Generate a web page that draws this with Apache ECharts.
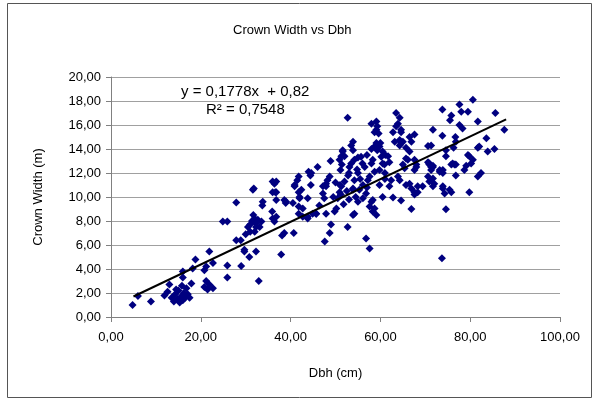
<!DOCTYPE html>
<html>
<head>
<meta charset="utf-8">
<script src="https://cdn.jsdelivr.net/npm/echarts@6/dist/echarts.min.js"></script>
<style>
    html, body { margin: 0; padding: 0; background: #fff; }
    #chart { width: 597px; height: 400px; }
</style>
</head>
<body>
<div id="chart"></div>
<script>
// 坐标轴刻度
var xTicks = [0, 20, 40, 60, 80, 100];
var yTicks = [0, 2, 4, 6, 8, 10, 12, 14, 16, 18, 20];

// 散点数据 [Dbh (cm), Crown Width (m)]
var treePoints = [
    [4.8, 1.0], [6.0, 1.75], [8.9, 1.3], [11.9, 1.8], [12.6, 2.1], [13.0, 2.7], [13.5, 1.6], [14.0, 1.3],
    [14.3, 1.9], [14.8, 1.5], [15.0, 2.2], [15.3, 1.2], [15.6, 1.7], [16.0, 1.4], [16.2, 2.0], [16.5, 1.6],
    [16.8, 2.4], [17.1, 1.9], [15.8, 2.6], [16.0, 3.3], [16.0, 3.8], [17.9, 2.8], [18.2, 4.05], [18.8, 4.8],
    [17.5, 1.6], [14.5, 2.3], [20.8, 3.9], [21.2, 4.2], [21.9, 5.45], [22.7, 4.5], [20.8, 2.5], [21.5, 2.3],
    [21.2, 3.0], [21.9, 2.7], [22.7, 2.4], [25.9, 4.3], [25.9, 3.3], [29.0, 4.25], [27.9, 9.55], [24.9, 7.95],
    [25.9, 7.95], [27.9, 6.4], [28.9, 6.4], [29.7, 5.6], [30.8, 5.0], [31.6, 10.6], [30.5, 7.5], [31.0, 7.7],
    [31.4, 8.0], [29.7, 5.45], [30.0, 6.9], [31.0, 7.1], [32.3, 7.5], [31.7, 8.5], [32.3, 7.8], [33.8, 9.6],
    [33.7, 9.3], [35.9, 8.8], [36.4, 7.95], [36.0, 10.4], [36.6, 10.4], [36.4, 11.1], [37.9, 5.2], [38.1, 6.8],
    [38.6, 7.0], [32.9, 3.0], [32.3, 5.45], [38.6, 9.75], [38.9, 9.5], [40.9, 11.0], [40.5, 9.5], [40.7, 7.0],
    [41.8, 10.4], [42.0, 10.0], [41.8, 9.2], [41.8, 8.6], [42.7, 8.35], [43.8, 8.35], [44.9, 8.6], [44.5, 11.0],
    [32.0, 8.2], [32.7, 8.1], [33.5, 7.95], [33.1, 7.5], [32.0, 7.1], [36.0, 8.2], [36.8, 8.35], [36.0, 11.3],
    [36.8, 11.3], [36.8, 10.4], [36.8, 9.75], [39.0, 9.6], [42.0, 9.9], [43.8, 9.9], [42.7, 9.05], [43.8, 8.2],
    [45.7, 8.6], [47.9, 8.6], [49.0, 7.7], [48.7, 7.0], [47.6, 6.3], [52.7, 7.5], [56.8, 6.55], [57.6, 5.7],
    [54.2, 8.6], [53.9, 8.5], [57.6, 9.2], [58.3, 8.8], [58.7, 9.05], [59.1, 8.5], [58.0, 9.6],
    [41.8, 11.7], [41.5, 11.4], [44.0, 12.1], [44.4, 11.8], [44.6, 12.0], [48.7, 11.7], [48.2, 11.4], [47.2, 10.9],
    [47.9, 11.1], [40.9, 10.9], [42.4, 10.6], [48.9, 13.0], [51.6, 13.8], [52.0, 13.4], [51.4, 12.7], [51.1, 12.25],
    [53.9, 14.6], [53.5, 14.3], [52.7, 16.6], [59.3, 15.9], [59.1, 15.6], [59.6, 15.3], [58.7, 14.2], [59.3, 13.9],
    [54.2, 13.1], [55.0, 13.3], [55.7, 13.35], [53.5, 12.8], [53.1, 12.5], [54.8, 12.3], [55.0, 12.0], [58.0, 12.8],
    [58.3, 13.1], [60.2, 13.35], [51.3, 10.9], [52.0, 11.3], [54.2, 11.4], [53.9, 10.7], [57.2, 11.4], [57.6, 11.7],
    [58.7, 12.1], [59.8, 12.25], [60.5, 12.8], [45.7, 8.6], [46.4, 9.3], [47.5, 9.9], [47.2, 10.3], [47.9, 10.9],
    [50.9, 10.4], [51.2, 10.2], [50.5, 9.9], [49.8, 8.8], [50.2, 9.05], [53.9, 10.6], [55.3, 10.6], [56.1, 11.0],
    [56.8, 10.3], [56.1, 9.9], [55.0, 9.6], [58.3, 9.75], [50.0, 11.2], [51.0, 11.0], [52.5, 10.5], [53.0, 9.8],
    [54.5, 10.0], [55.5, 11.5], [56.5, 12.5], [57.0, 10.8], [49.5, 10.0], [51.8, 9.4], [52.8, 11.8], [53.0, 12.0],
    [56.0, 12.8], [57.0, 13.5], [58.0, 14.0], [60.0, 14.5], [61.0, 11.5], [60.5, 10.0], [59.8, 11.0], [61.0, 12.0],
    [58.0, 16.1], [59.1, 16.3], [58.7, 15.4], [53.9, 13.9], [51.6, 13.9], [51.3, 13.4], [50.9, 13.1], [60.5, 13.8],
    [61.1, 13.5], [59.1, 14.5], [59.8, 14.2], [46.0, 12.5], [31.8, 10.7],
    [63.5, 17.0], [64.3, 16.6], [63.9, 16.1], [62.8, 15.4], [64.6, 15.4], [64.3, 14.75], [63.2, 14.6], [64.6, 14.5],
    [67.6, 15.2], [66.9, 14.6], [66.5, 13.8], [61.7, 13.4], [62.0, 12.9], [60.9, 12.7], [65.7, 13.2], [66.1, 13.1],
    [65.0, 12.7], [68.0, 12.7], [67.6, 12.25], [65.4, 12.4], [70.6, 12.9], [70.9, 12.7], [71.7, 12.5], [71.3, 12.25],
    [73.2, 12.25], [73.9, 12.0], [76.1, 12.8], [76.8, 12.7], [63.9, 11.7], [64.3, 11.4], [62.0, 10.9], [62.4, 11.4],
    [65.7, 11.0], [66.9, 10.7], [67.6, 10.4], [68.3, 10.9], [69.4, 10.9], [70.6, 11.7], [71.7, 11.55], [70.9, 11.3],
    [72.0, 11.1], [73.9, 10.7], [75.4, 10.6], [79.8, 10.4], [62.8, 9.95], [64.6, 9.7], [66.9, 9.0], [67.6, 10.2],
    [74.6, 8.98], [73.7, 4.9], [66.5, 11.1], [68.3, 10.4], [71.7, 10.9], [73.9, 10.9], [74.3, 10.3], [75.8, 10.4],
    [80.6, 18.1], [77.6, 17.7], [78.0, 17.1], [75.8, 16.8], [75.5, 16.4], [79.5, 17.1], [73.8, 17.3], [85.6, 17.0],
    [87.6, 15.6], [81.7, 16.3], [77.6, 16.0], [78.3, 15.7], [71.7, 15.6], [73.8, 15.1], [76.7, 15.0], [76.8, 14.6],
    [76.3, 14.1], [81.7, 14.1], [83.6, 14.9], [85.4, 14.0], [71.3, 14.3], [70.6, 14.25], [74.6, 13.9], [74.6, 13.4],
    [79.8, 13.4], [80.6, 13.1], [80.2, 12.8], [79.1, 12.6], [78.7, 12.25], [82.4, 12.0], [76.8, 11.8], [75.8, 12.7],
    [76.5, 12.7], [73.9, 12.25], [73.2, 12.1], [70.9, 12.8], [71.3, 12.5], [71.7, 12.6], [83.9, 13.8], [82.0, 14.2],
    [81.7, 11.7], [79.5, 13.5], [66.5, 15.0], [65.0, 14.6], [64.3, 14.3], [65.7, 14.1], [67.6, 13.1], [68.0, 12.5],
    [63.5, 15.9], [64.6, 15.6]
];

// 趋势线 y = 0,1778x + 0,82 的两个端点
var trendX = [5, 88];
var trendY = [1.71, 16.47];

function fmt(v) {
    return v.toFixed(2).replace('.', ',');
}

var chart = echarts.init(document.getElementById('chart'));
var font = '"Liberation Sans", Arial, sans-serif';

var option = {
    animation: false,
    backgroundColor: '#fff',
    textStyle: { fontFamily: font },
    title: {
        text: 'Crown Width vs Dbh',
        left: 228,
        top: 19,
        textStyle: { fontSize: 13, fontWeight: 'normal', color: '#000', fontFamily: font }
    },
    grid: { left: 111, top: 77, right: 37, bottom: 83 },
    xAxis: {
        type: 'value',
        min: xTicks[0],
        max: xTicks[xTicks.length - 1],
        interval: 20,
        name: 'Dbh (cm)',
        nameLocation: 'middle',
        nameGap: 50,
        nameTextStyle: { fontSize: 13, color: '#000', fontFamily: font },
        axisLine: { lineStyle: { color: '#808080', width: 1 } },
        axisTick: { show: true, inside: false, length: 5, lineStyle: { color: '#808080' } },
        axisLabel: { formatter: fmt, fontSize: 13, color: '#000', margin: 14, fontFamily: font },
        splitLine: { show: false }
    },
    yAxis: {
        type: 'value',
        min: yTicks[0],
        max: yTicks[yTicks.length - 1],
        interval: 2,
        name: 'Crown Width (m)',
        nameLocation: 'middle',
        nameGap: 66,
        nameTextStyle: { fontSize: 13, color: '#000', fontFamily: font },
        axisLine: { show: true, lineStyle: { color: '#808080', width: 1 } },
        axisTick: { show: true, inside: false, length: 5, lineStyle: { color: '#808080' } },
        axisLabel: { formatter: fmt, fontSize: 13, color: '#000', margin: 10, fontFamily: font },
        splitLine: { show: true, lineStyle: { color: '#a0a0a0', width: 1 } }
    },
    graphic: [
        {
            type: 'rect',
            shape: { x: 7.5, y: 3.5, width: 584, height: 394 },
            style: { fill: null, stroke: '#555', lineWidth: 1 },
            silent: true
        },
        {
            type: 'text',
            left: 181, top: 84,
            style: { text: 'y = 0,1778x  + 0,82', font: '15px ' + font, fill: '#000' }
        },
        {
            type: 'text',
            left: 206, top: 102,
            style: { text: 'R² = 0,7548', font: '15px ' + font, fill: '#000' }
        }
    ],
    series: [
        {
            name: 'Crown Width',
            type: 'scatter',
            symbol: 'diamond',
            symbolSize: 8,
            itemStyle: { color: '#000080', opacity: 1 },
            data: treePoints,
            z: 2
        },
        {
            name: 'Trend',
            type: 'line',
            data: trendX.map(function (x, i) { return [x, trendY[i]]; }),
            symbol: 'none',
            lineStyle: { color: '#000', width: 2 },
            z: 3
        }
    ]
};
chart.setOption(option);
</script>
</body>
</html>
